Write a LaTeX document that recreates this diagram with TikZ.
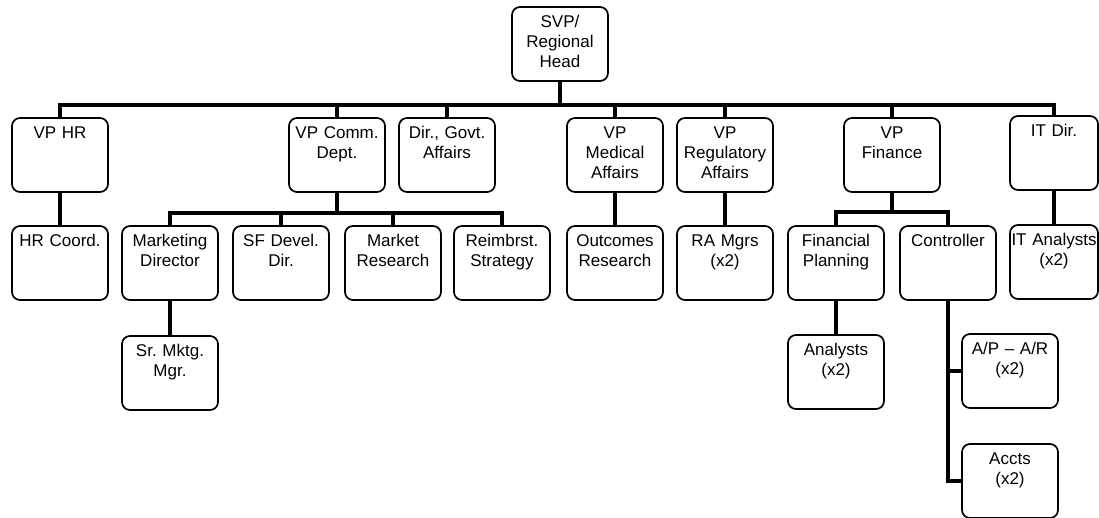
\documentclass[tikz,border=0pt]{standalone}
\usepackage{fontspec}
\setmainfont{Liberation Sans}
\frenchspacing

\begin{document}
\begin{tikzpicture}[
x=1pt, y=-1pt,
unit/.style = {
	draw,
	rounded corners=8pt,
	line width=1.7pt,
	text width=88pt,
	align=center,
	inner xsep=4pt,
	inner ysep=4pt,
	text height=16pt,
	text depth=50pt,
	font=\fontsize{17}{20}\selectfont
	},
itUnit/.style = {
	unit,
	text width=86pt,
	inner xsep=1pt
	},
link/.style = {
	line width=3.8pt
	}
]
\useasboundingbox (0,0) rectangle (1099,517);

% TOP NODE
\node [unit] (svp) at (560,44) {SVP/\\Regional\\Head};

% FIRST LEVEL NODES
\node [unit] (vpHR) at (60,155) {VP HR};
\node [unit] (vpComm) at (337,155) {VP Comm.\\Dept.};
\node [unit] (dirGovt) at (447,155) {Dir., Govt.\\Affairs};
\node [unit] (vpMed) at (615,155) {VP\\Medical\\Affairs};
\node [unit] (vpReg) at (725,155) {VP\\Regulatory\\Affairs};
\node [unit] (vpFin) at (892,155) {VP\\Finance};
\node [itUnit] (itDir) at (1054,153) {IT Dir.};

% SECOND LEVEL NODES
\node [unit] (hrCoord) at (60,263) {HR Coord.};
\node [unit] (mktDir) at (170,263) {Marketing\\Director};
\node [unit] (sfDev) at (281,263) {SF Devel.\\Dir.};
\node [unit] (mktRes) at (393,263) {Market\\Research};
\node [unit] (reimb) at (502,263) {Reimbrst.\\Strategy};
\node [unit] (outRes) at (615,263) {Outcomes\\Research};
\node [unit] (raMgrs) at (725,263) {RA Mgrs\\(x2)};
\node [unit] (finPlan) at (836,263) {Financial\\Planning};
\node [unit] (ctrl) at (948,263) {Controller};
\node [itUnit] (itAnal) at (1054,262) {IT Analysts\\(x2)};

% THIRD LEVEL NODES
\node [unit] (srMktg) at (170,373) {Sr. Mktg.\\Mgr.};
\node [unit] (finAnal) at (836,372) {Analysts\\(x2)};
\node [unit] (apar) at (1010,371) {A/P -- A/R\\(x2)};
\node [unit] (accts) at (1010,481) {Accts\\(x2)};

% BUS LINES
\coordinate (mainBus) at (0,105);
\coordinate (commBus) at (0,213);
\coordinate (finBus) at (0,212);

% PATHS
\draw [link] (svp) -- (svp.south |- mainBus);
\draw [link] (vpHR.north) -- (vpHR.north |- mainBus) -- (itDir.north |- mainBus) -- (itDir.north);
\foreach \n in {vpComm,dirGovt,vpMed,vpReg,vpFin}
	\draw [link] (\n.north) -- (\n.north |- mainBus);
\draw [link] (vpComm.south) -- (vpComm.south |- commBus);
\draw [link] (mktDir.north) -- (mktDir.north |- commBus) -- (reimb.north |- commBus) -- (reimb.north);
\foreach \n in {sfDev,mktRes}
	\draw [link] (\n.north) -- (\n.north |- commBus);
\draw [link] (vpFin.south) -- (vpFin.south |- finBus);
\draw [link] (finPlan.north) -- (finPlan.north |- finBus) -- (ctrl.north |- finBus) -- (ctrl.north);
\path [link] (vpHR) edge (hrCoord) (vpMed) edge (outRes) (vpReg) edge (raMgrs) (itDir) edge (itAnal);
\path [link] (mktDir) edge (srMktg) (finPlan) edge (finAnal);
\draw [link] (ctrl.south) |- (accts.west);
\draw [link] (ctrl.south |- apar.west) -- (apar.west);
\end{tikzpicture}
\end{document}
